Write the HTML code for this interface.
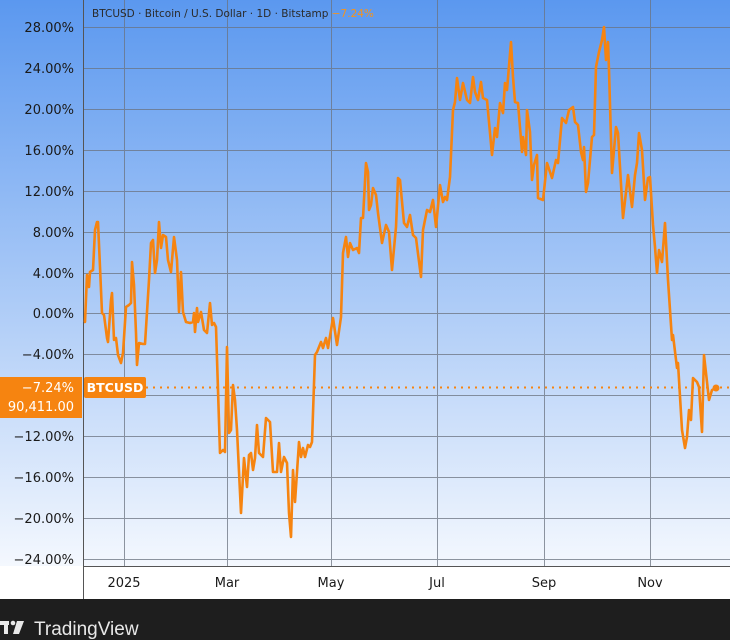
<!DOCTYPE html>
<html><head><style>
body{margin:0;width:730px;height:640px;overflow:hidden;font-family:"DejaVu Sans","Liberation Sans",sans-serif;}
</style></head><body>
<svg width="730" height="640" xmlns="http://www.w3.org/2000/svg" style="display:block">
<defs><linearGradient id="bg" x1="0" y1="0" x2="0" y2="1">
<stop offset="0" stop-color="#5b98ef"/><stop offset="1" stop-color="#f4f8fe"/></linearGradient></defs>
<rect x="0" y="0" width="730" height="566" fill="url(#bg)"/>
<rect x="0" y="566" width="730" height="33" fill="#fff"/>
<rect x="0" y="599" width="730" height="41" fill="#1e1e1e"/>
<g stroke="#6b7380" stroke-width="1" opacity="0.75">
<line x1="83" x2="730" y1="27.5" y2="27.5"/><line x1="83" x2="730" y1="68.5" y2="68.5"/>
<line x1="83" x2="730" y1="109.5" y2="109.5"/><line x1="83" x2="730" y1="150.5" y2="150.5"/>
<line x1="83" x2="730" y1="191.5" y2="191.5"/><line x1="83" x2="730" y1="232.5" y2="232.5"/>
<line x1="83" x2="730" y1="273.5" y2="273.5"/><line x1="83" x2="730" y1="313.5" y2="313.5"/>
<line x1="83" x2="730" y1="354.5" y2="354.5"/><line x1="83" x2="730" y1="395.5" y2="395.5"/>
<line x1="83" x2="730" y1="436.5" y2="436.5"/><line x1="83" x2="730" y1="477.5" y2="477.5"/>
<line x1="83" x2="730" y1="518.5" y2="518.5"/><line x1="83" x2="730" y1="559.5" y2="559.5"/>
<line x1="124.5" x2="124.5" y1="0" y2="566"/><line x1="227.5" x2="227.5" y1="0" y2="566"/>
<line x1="331.5" x2="331.5" y1="0" y2="566"/><line x1="437.5" x2="437.5" y1="0" y2="566"/>
<line x1="544.5" x2="544.5" y1="0" y2="566"/><line x1="650.5" x2="650.5" y1="0" y2="566"/>
</g>
<line x1="83.5" x2="83.5" y1="0" y2="599" stroke="#555"/>
<line x1="83" x2="730" y1="566.5" y2="566.5" stroke="#555"/>
<g font-size="13" fill="#1a1a1a" text-anchor="end">
<text x="74" y="32">28.00%</text><text x="74" y="73">24.00%</text><text x="74" y="114">20.00%</text>
<text x="74" y="155">16.00%</text><text x="74" y="196">12.00%</text><text x="74" y="237">8.00%</text>
<text x="74" y="278">4.00%</text><text x="74" y="318">0.00%</text><text x="74" y="359">−4.00%</text>
<text x="74" y="441">−12.00%</text><text x="74" y="482">−16.00%</text><text x="74" y="523">−20.00%</text>
<text x="74" y="564">−24.00%</text></g>
<g font-size="13" fill="#1a1a1a" text-anchor="middle">
<text x="124" y="587">2025</text><text x="227" y="587">Mar</text><text x="331" y="587">May</text>
<text x="437" y="587">Jul</text><text x="544" y="587">Sep</text><text x="650" y="587">Nov</text></g>
<text x="92" y="17" font-size="10.5" fill="#2a2a2a">BTCUSD · Bitcoin / U.S. Dollar · 1D · Bitstamp <tspan fill="#f7931a">−7.24%</tspan></text>
<line x1="146" x2="730" y1="387.5" y2="387.5" stroke="#f68410" stroke-width="2" stroke-dasharray="2,5"/>
<polyline fill="none" stroke="#f68410" stroke-width="2.6" stroke-linejoin="round" points="84,322 85,322 87,275 89,287 90,272 93,270 95,230 97,222 98,222 100,267 102,313 104,315 107,338 108,342 111,300 112,293 114,340 116,338 118,355 121,363 123,353 126,307 129,305 131,303 132,262 134,285 136,333 137,365 139,343 143,344 145,344 149,280 151,243 153,240 155,273 157,260 159,222 161,248 163,235 166,237 168,260 171,272 174,237 177,260 179,312 181,272 183,312 186,322 190,323 193,322 194,313 195,332 197,308 198,322 201,312 204,330 207,333 210,303 212,325 214,323 216,327 220,453 223,450 225,452 227,347 229,433 231,430 233,385 235,400 237,430 241,513 244,458 247,487 249,455 251,453 253,470 255,458 257,425 259,453 263,457 266,418 270,422 273,472 277,472 279,443 281,472 284,457 287,463 289,513 291,537 293,470 295,502 299,442 301,457 303,448 305,457 308,445 310,447 312,442 315,355 317,352 321,342 323,348 326,338 328,348 333,318 337,345 341,317 343,253 346,237 348,257 350,243 353,250 357,248 359,253 361,218 363,218 366,163 368,172 369,210 371,205 373,188 376,195 378,213 382,243 386,225 389,232 392,270 396,227 398,178 400,180 404,223 407,227 410,215 413,235 416,238 421,277 423,230 427,210 430,212 433,200 436,227 440,185 443,202 445,197 447,200 450,177 453,110 455,102 457,78 460,100 463,83 467,100 470,103 473,77 475,92 478,100 481,82 483,98 487,100 492,155 495,128 497,137 500,103 503,113 505,83 507,90 511,42 513,77 515,102 518,103 522,152 523,137 526,155 527,110 530,132 532,180 534,165 537,155 538,198 543,200 547,163 552,178 556,160 558,163 562,118 566,123 569,110 573,107 575,122 578,125 581,152 583,160 584,147 586,192 588,183 592,137 594,135 596,67 599,52 602,40 604,27 606,60 608,42 609,70 612,173 616,127 618,133 623,218 628,175 632,207 635,175 637,163 639,133 642,150 645,200 648,178 650,177 653,225 655,247 657,273 659,250 662,262 665,223 668,280 672,340 673,335 677,368 678,363 682,430 685,448 687,437 689,410 691,420 693,378 697,382 699,387 702,432 704,355 706,373 709,400 712,390 716,388"/>
<circle cx="716" cy="388" r="3.5" fill="#f68410"/>
<rect x="0" y="377" width="82" height="41" fill="#f68410"/>
<text x="74" y="392" font-size="13" fill="#fff" text-anchor="end">−7.24%</text>
<text x="74" y="411" font-size="13" fill="#fff" text-anchor="end">90,411.00</text>
<rect x="84" y="377" width="62" height="21" rx="2" fill="#f68410"/>
<text x="115" y="392" font-size="12.5" font-weight="bold" fill="#fff" text-anchor="middle">BTCUSD</text>
<g fill="#e8e8e8">
<rect x="0" y="621" width="9" height="4"/><rect x="4" y="621" width="4" height="13"/>
<circle cx="13" cy="623" r="2.3"/><polygon points="17,621 24,621 19,634 13,634"/>
</g>
<text x="34" y="635" font-size="19" fill="#e8e8e8" font-family="Liberation Sans,sans-serif">TradingView</text>
</svg>
</body></html>
